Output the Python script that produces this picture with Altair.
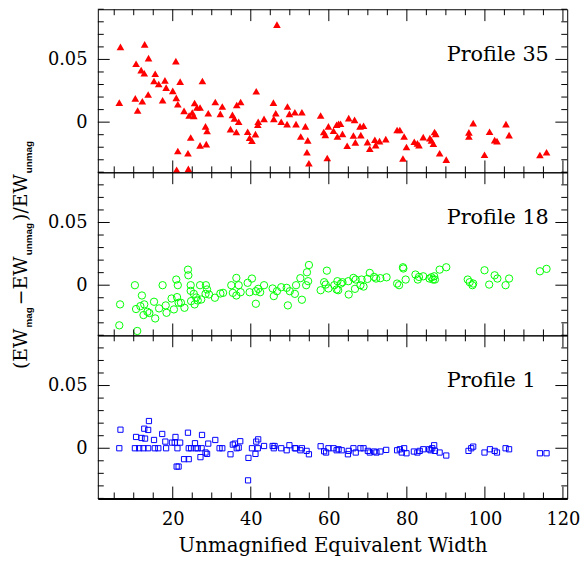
import altair as alt
import pandas as pd

# (Unmagnified EW, (EW_mag - EW_unmag)/EW_unmag)
profile35 = [(6.6, 0.060), (6.3, 0.0156), (12.8, 0.062), (13.8, 0.051), (10.6, 0.0466), (11.9, 0.0415),
             (12.7, 0.039), (10.4, 0.019), (12.2, 0.0167), (11.0, 0.0093), (13.7, 0.022), (15.5, 0.0386),
             (15.2, 0.0328), (16.4, 0.0304), (18.0, 0.0333), (18.3, 0.0275), (17.4, 0.0175), (20.0, 0.0249),
             (20.8, 0.0487), (20.9, 0.0193), (21.3, 0.0143), (21.9, 0.0323), (22.9, 0.009), (21.3, -0.023),
             (21.0, -0.038), (23.9, -0.0248), (24.0, -0.0373), (24.6, -0.0122), (24.2, 0.0053), (25.4, 0.005),
             (25.0, 0.0077), (25.6, 0.0153), (26.2, 0.0117), (27.0, 0.0117), (27.6, 0.0328), (27.0, -0.0185),
             (28.6, -0.0175), (28.4, -0.0034), (28.8, -0.0071), (29.1, 0.0071), (30.9, 0.0161), (32.2, 0.0066),
             (32.7, 0.0125), (34.8, -0.0056), (35.3, 0.0058), (35.8, 0.0029), (36.3, -0.0079), (36.4, 0.0137),
             (36.9, 0.0003), (37.4, 0.0161), (39.2, -0.0077), (39.7, -0.0124), (40.3, -0.0148), (41.2, -0.0095),
             (41.4, 0.0246), (41.8, -0.0021), (41.9, 0.0003), (43.4, 0.0026), (45.8, 0.0156), (45.9, 0.0026),
             (46.4, 0.0071), (46.7, 0.0778), (47.8, 0.0003), (49.3, -0.0016), (49.4, 0.0125), (49.9, 0.0066),
             (51.3, 0.0079), (51.6, -0.0016), (53.1, 0.0079), (52.8, -0.0114), (54.0, -0.0034), (54.6, -0.0145),
             (54.4, -0.024), (54.9, -0.0328), (57.9, 0.0053), (58.7, -0.0079), (59.1, -0.0101), (59.6, -0.0286),
             (59.9, -0.0034), (61.2, -0.0069), (62.0, -0.0021), (62.5, -0.0013), (63.0, -0.0013), (62.2, -0.0114),
             (63.5, -0.0093), (64.7, -0.0188), (65.1, 0.0032), (66.6, 0.0018), (66.3, -0.0106), (66.8, -0.0161),
             (68.0, -0.0034), (68.9, -0.0029), (68.2, -0.0103), (69.9, -0.0159), (70.5, -0.0212), (71.8, -0.014),
             (72.0, -0.0183), (73.0, -0.0151), (74.6, -0.0135), (77.5, -0.0063), (78.2, -0.0063), (79.3, -0.0114),
             (79.0, -0.029), (79.9, -0.0198), (81.9, -0.0156), (82.7, -0.0169), (83.1, -0.0183), (84.2, -0.0119),
             (85.9, -0.0127), (86.3, -0.0145), (86.8, -0.0172), (87.1, -0.0079), (87.4, -0.0093), (88.4, -0.0248),
             (90.1, -0.0299), (95.9, -0.0082), (95.9, -0.0114), (97.0, -0.0008), (99.9, -0.026), (101.2, -0.0077),
             (102.5, -0.0143), (103.1, -0.0151), (105.4, -0.0016), (106.2, -0.0103), (114.1, -0.0262),
             (115.8, -0.024)]

profile18 = [(6.5, -0.0153), (6.3, -0.032), (10.3, 0.0), (10.9, -0.0365), (12.1, -0.0082), (10.6, -0.019),
             (11.7, -0.0167), (12.7, -0.0153), (12.5, -0.0238), (13.5, -0.0212), (14.0, -0.0222), (15.2, -0.0132),
             (15.5, -0.0265), (16.5, -0.0185), (17.4, 0.0), (18.2, -0.0161), (18.4, -0.022), (19.7, -0.0106),
             (20.3, -0.0193), (20.9, 0.0045), (21.3, 0.0), (21.1, -0.0095), (21.5, -0.014), (22.1, -0.014),
             (23.0, -0.018), (23.9, 0.0124), (24.0, 0.0079), (24.6, 0.0), (24.6, -0.0045), (24.7, -0.0127),
             (25.4, -0.0069), (25.6, -0.0153), (26.0, -0.0098), (26.4, -0.0122), (27.0, 0.0), (27.3, -0.0114),
             (28.5, 0.0), (28.8, -0.0034), (28.4, -0.0069), (29.3, -0.0074), (30.8, -0.01), (32.2, -0.0066),
             (32.9, -0.0061), (35.0, 0.0), (35.4, -0.0061), (36.3, 0.0058), (36.9, 0.0), (36.3, -0.0082),
             (37.4, -0.0056), (39.2, 0.0019), (40.3, 0.0053), (39.7, -0.0056), (41.3, -0.0148), (41.3, -0.0048),
             (41.9, -0.0029), (42.4, -0.0056), (43.4, 0.0), (45.6, -0.0026), (45.9, -0.0087), (46.7, -0.0048),
             (47.8, -0.0016), (49.2, -0.0021), (49.5, -0.0161), (50.0, -0.0048), (51.6, 0.0), (51.3, -0.0069),
             (53.1, -0.0116), (52.7, 0.0056), (54.2, 0.0), (54.4, 0.0103), (54.9, 0.0161), (54.7, 0.0032),
             (57.9, -0.004), (58.8, 0.0024), (59.5, 0.0116), (59.2, 0.0005), (59.9, -0.0026), (61.4, 0.0),
             (62.0, -0.0034), (62.4, -0.004), (62.2, 0.0032), (63.1, 0.0013), (63.5, 0.0024), (65.0, 0.0032),
             (65.1, -0.0074), (66.3, 0.0058), (66.7, -0.0029), (66.9, 0.0045), (68.1, 0.0), (68.9, -0.0011),
             (68.4, 0.0045), (69.9, 0.005), (70.5, 0.0098), (71.6, 0.0066), (72.1, 0.0053), (73.2, 0.0056),
             (74.8, 0.0063), (77.5, 0.0013), (78.0, 0.0), (79.0, 0.0143), (79.1, 0.0133), (79.7, 0.0045),
             (82.2, 0.0085), (82.8, 0.0045), (83.1, 0.0066), (84.2, 0.0071), (85.8, 0.0053), (86.3, 0.0063),
             (86.7, 0.0045), (87.2, 0.0045), (87.0, 0.0071), (88.4, 0.0124), (90.1, 0.0143), (95.6, 0.0045),
             (96.1, 0.0024), (96.8, 0.0), (97.0, 0.0013), (99.9, 0.0119), (101.1, 0.0005), (102.5, 0.0079),
             (103.2, 0.0053), (105.3, 0.0), (106.2, 0.0053), (114.1, 0.0111), (115.8, 0.013)]

profile1 = [(6.6, 0.0148), (6.3, 0.0), (10.6, 0.009), (10.3, 0.0), (11.4, 0.0), (12.0, 0.0082), (12.7, 0.0156),
            (12.9, 0.0077), (13.7, 0.0146), (13.9, 0.0217), (12.5, 0.0), (13.7, 0.0), (15.2, 0.0066), (15.4, 0.0),
            (16.3, 0.0), (17.3, 0.0114), (18.1, 0.0053), (18.3, 0.0), (19.8, 0.0045), (20.7, 0.009), (20.5, 0.0045),
            (21.2, 0.0), (21.0, -0.0146), (21.5, -0.0146), (21.9, 0.0045), (22.9, -0.0087), (24.1, -0.0087),
            (23.9, 0.0124), (24.1, 0.0), (24.7, 0.0), (25.7, 0.004), (25.9, 0.0), (26.4, 0.0), (27.1, -0.0071),
            (27.5, 0.0106), (27.4, 0.0), (28.4, -0.0034), (28.8, -0.0045), (29.1, 0.0037), (30.9, 0.0066),
            (32.0, 0.0), (32.7, 0.0), (34.8, -0.0048), (35.4, 0.0029), (35.9, 0.0037), (36.4, 0.0), (36.9, 0.0005),
            (37.3, 0.0056), (39.4, -0.0077), (39.3, -0.0256), (40.3, 0.0), (41.2, -0.0045), (41.4, 0.0053),
            (41.9, 0.0071), (41.8, 0.0), (43.4, 0.0018), (45.6, 0.0018), (46.1, 0.0018), (45.9, 0.0), (47.8, 0.0),
            (49.2, -0.0016), (49.9, 0.0024), (51.3, 0.0), (51.5, 0.0), (52.7, -0.0016), (53.1, 0.0),
            (54.3, -0.0021), (54.9, -0.0048), (57.9, 0.0016), (58.8, -0.0024), (59.3, -0.0034), (59.9, 0.0),
            (61.2, 0.0), (62.0, -0.0016), (62.5, -0.0008), (63.3, -0.0016), (64.9, -0.0048), (65.1, -0.0021),
            (66.3, 0.0), (66.9, -0.0034), (68.1, 0.0), (68.9, 0.0), (70.0, -0.0021), (70.5, -0.0034),
            (71.6, -0.0026), (72.2, -0.0034), (73.2, -0.0026), (74.7, -0.0013), (77.5, -0.0016), (78.2, -0.0008),
            (78.7, -0.0034), (79.3, 0.0), (79.9, -0.004), (81.8, -0.0026), (82.7, -0.0034), (83.3, -0.0021),
            (84.2, -0.0008), (85.7, -0.0008), (86.1, -0.0016), (86.5, 0.0), (87.0, 0.0024), (87.2, -0.0021),
            (88.4, -0.0034), (90.1, -0.0058), (95.8, -0.0021), (96.5, 0.0), (97.0, 0.0013), (99.9, -0.0034),
            (101.3, -0.0008), (102.5, -0.0021), (103.1, -0.0034), (105.3, 0.0), (106.2, -0.0008),
            (114.1, -0.004), (115.8, -0.004)]

labels = ["Profile 35", "Profile 18", "Profile 1"]
x_title = "Unmagnified Equivalent Width"

x_major = [20, 40, 60, 80, 100, 120]
x_minor = [5, 10, 15, 25, 30, 35, 45, 50, 55, 65, 70, 75, 85, 90, 95, 105, 110, 115]
y_major = [0.0, 0.05]
y_minor = [-0.04, -0.03, -0.02, -0.01, 0.01, 0.02, 0.03, 0.04, 0.06, 0.07, 0.08, 0.09]

W, H = 475, 165
XS = alt.Scale(domain=[0.8, 121.1], nice=False, zero=False)
YS = alt.Scale(domain=[-0.04, 0.09], nice=False, zero=False)
SERIF = "DejaVu Serif"
SUBFONT = "Liberation Sans"


def tick_layers(xaxis, yaxis):
    layers = []
    for vals, L in ((x_major, 12), (x_minor, 6)):
        base = alt.Chart(pd.DataFrame({"ew": vals})).mark_rule(color="black", strokeWidth=1)
        xe = alt.X("ew:Q", scale=XS, axis=xaxis)
        layers.append(base.encode(x=xe, y=alt.value(0), y2=alt.value(L)))
        layers.append(base.encode(x=xe, y=alt.value(H), y2=alt.value(H - L)))
    for vals, L in ((y_major, 12), (y_minor, 6)):
        base = alt.Chart(pd.DataFrame({"dev": vals})).mark_rule(color="black", strokeWidth=1)
        ye = alt.Y("dev:Q", scale=YS, axis=yaxis)
        layers.append(base.encode(y=ye, x=alt.value(0), x2=alt.value(L)))
        layers.append(base.encode(y=ye, x=alt.value(W), x2=alt.value(W - L)))
    return layers


def panel(points, label, shape, color, filled, size, bottom=False, extra=()):
    df = pd.DataFrame(points, columns=["ew", "dev"])
    if bottom:
        xaxis = alt.Axis(values=x_major, format="d", title=x_title, ticks=False, tickSize=0,
                         domain=True, domainColor="black", domainWidth=2, grid=False,
                         labelFont=SERIF, labelFontSize=18, labelColor="black", labelPadding=12,
                         labelFlush=False, titleFont=SERIF, titleFontSize=20,
                         titleFontWeight="normal", titleColor="black", titlePadding=8)
    else:
        xaxis = None
    yaxis = alt.Axis(values=y_major, format=".2~f", title=None, ticks=False, tickSize=0,
                     domain=False, grid=False, labelFont=SERIF, labelFontSize=18,
                     labelColor="black", labelPadding=11, labelFlush=False)
    pts = alt.Chart(df).mark_point(shape=shape, filled=filled, color=color, size=size,
                                   opacity=1, strokeWidth=1).encode(
        x=alt.X("ew:Q", scale=XS, axis=xaxis),
        y=alt.Y("dev:Q", scale=YS, axis=yaxis),
    )
    txt = alt.Chart(pd.DataFrame({"t": [label]})).mark_text(
        font=SERIF, fontSize=21, color="black", align="left", baseline="alphabetic"
    ).encode(text="t:N", x=alt.value(353), y=alt.value(52))
    return alt.layer(pts, txt, *tick_layers(xaxis, yaxis), *extra).properties(width=W, height=H)


# y-axis title built from pieces (main text + bold subscripts), reading bottom to top
ytitle_parts = ["(EW", "mag", "\u2212EW", "unmag", ")/EW", "unmag"]
part_pos = [199, 157, 134.4, 84, 49.2, 1]
title_layers = []
for i, (t, p) in enumerate(zip(ytitle_parts, part_pos)):
    sub = i % 2 == 1
    title_layers.append(
        alt.Chart(pd.DataFrame({"t": [t]})).mark_text(
            font=SUBFONT if sub else SERIF,
            fontSize=10 if sub else 19,
            fontWeight="bold" if sub else "normal",
            color="black", angle=270, align="left", baseline="alphabetic",
        ).encode(text="t:N", x=alt.value(-67 if sub else -72), y=alt.value(p))
    )

top = panel(profile35, labels[0], "triangle-up", "#ff0000", True, 60)
mid = panel(profile18, labels[1], "circle", "#00ff00", False, 55, extra=title_layers)
bot = panel(profile1, labels[2], "square", "#0000ff", False, 28, bottom=True)

chart = alt.vconcat(top, mid, bot, spacing=0, bounds="flush").properties(
    padding={"left": 11, "top": 5, "right": 5, "bottom": 5}
).configure(background="white").configure_view(stroke="black", strokeWidth=1)

chart.save("out.html", embed_options={"renderer": "svg", "actions": False})
